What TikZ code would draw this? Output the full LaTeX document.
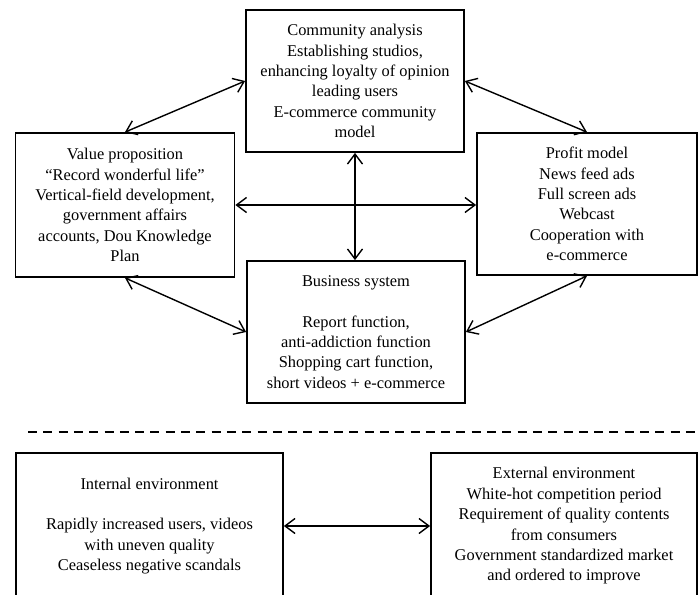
\documentclass[tikz,border=0pt]{standalone}
\usepackage{fontspec}
\setmainfont{Liberation Serif}
\usetikzlibrary{arrows.meta}

\begin{document}
\begin{tikzpicture}[x=1pt, y=-1pt,
    % --- 样式定义 ---
    block/.style={draw, line width=1.8pt, align=center, inner sep=0pt,
        minimum width=218pt, minimum height=142pt},
    link/.style={{Straight Barb[length=10pt,width=15pt]}-{Straight Barb[length=10pt,width=15pt]},
        line width=1.4pt},
    body_text/.style={font=\fontsize{16.4}{20.4}\selectfont} % 字体大小
]

    % 画布大小 (与原图同比例)
    \path[use as bounding box, clip] (0,0) rectangle (698,594);

    % =========================================
    % 【上半部分】 商业模式四个要素
    % =========================================

    % --- 1. 方框 ---
    \node[block, body_text] (comm) at (355, 81)
        {Community analysis\\Establishing studios,\\enhancing loyalty of opinion\\leading users\\E-commerce community\\model};
    \node[block, body_text, minimum width=219pt, minimum height=144pt] (value) at (125, 205)
        {Value proposition\\``Record wonderful life''\\Vertical-field development,\\government affairs\\accounts, Dou Knowledge\\Plan};
    \node[block, body_text, minimum width=220pt] (profit) at (587, 204)
        {Profit model\\News feed ads\\Full screen ads\\Webcast\\Cooperation with\\e-commerce};
    \node[block, body_text] (biz) at (356, 332)
        {Business system\\[20.4pt]Report function,\\anti-addiction function\\Shopping cart function,\\short videos + e-commerce};

    % --- 2. 连线 ---
    \draw[link] (value.north) -- (comm.west);
    \draw[link] (comm.east) -- (profit.north);
    \draw[link] (value.south) -- (biz.west);
    \draw[link] (biz.east) -- (profit.south);

    % 中间十字
    \draw[link] (value.east) -- (value.east -| profit.west);
    \draw[link] (comm.south) -- (comm.south |- biz.north);

    % =========================================
    % 【分隔线】
    % =========================================
    \coordinate (dashL) at (28, 431.7);
    \coordinate (dashR) at (698, 431.7);
    \draw[line width=2.4pt, dash pattern=on 9pt off 6.3pt] (dashL) -- (dashR);

    % =========================================
    % 【下半部分】 内外部环境 (底边在画布外)
    % =========================================
    \node[block, body_text, minimum width=267pt, minimum height=146pt] (internal) at (149.5, 526)
        {Internal environment\\[20.4pt]Rapidly increased users, videos\\with uneven quality\\Ceaseless negative scandals};
    \node[block, body_text, minimum width=266pt, minimum height=146pt] (external) at (564, 526)
        {External environment\\White-hot competition period\\Requirement of quality contents\\from consumers\\Government standardized market\\and ordered to improve};

    \draw[link] (internal.east) -- (external.west);

\end{tikzpicture}
\end{document}
